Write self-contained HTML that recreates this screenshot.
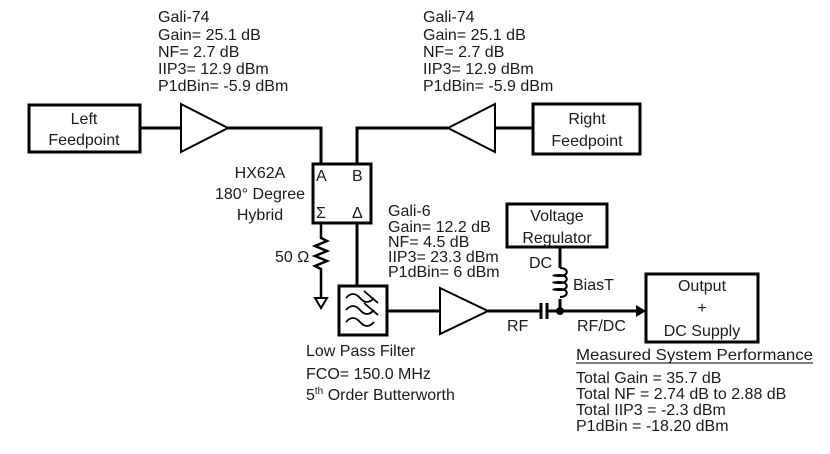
<!DOCTYPE html>
<html><head><meta charset="utf-8"><style>
html,body{margin:0;padding:0;background:#fff;}
svg{display:block;}
text{font-family:"Liberation Sans",sans-serif;font-size:16px;fill:#1a1a1a;}
</style></head><body>
<svg width="830" height="454" viewBox="0 0 830 454" xmlns="http://www.w3.org/2000/svg">
<g fill="none" stroke="#000" stroke-width="3">
<rect x="29" y="105" width="111" height="47"/>
<line x1="140" y1="128" x2="181" y2="128"/>
<polygon points="181,104 228,128 181,152" stroke-width="2"/>
<polyline points="228,128 321,128 321,164"/>
<rect x="313" y="164" width="58" height="59"/>
<polyline points="357,164 357,128 448,128"/>
<polygon points="495,104 448,128 495,152" stroke-width="2"/>
<line x1="495" y1="128" x2="533" y2="128"/>
<rect x="533" y="104" width="107" height="50"/>
<polyline points="321,223 321,238 327,241 315,246 327,251 315,256 327,261 315,266 321,269 321,298" stroke-width="2.5"/>
<polygon points="315,298 327,298 321,308" stroke-width="2"/>
<line x1="357" y1="223" x2="357" y2="286"/>
<rect x="339" y="286" width="48" height="49"/>
<line x1="387" y1="311" x2="440" y2="311"/>
<polygon points="440,288 488,311 440,334" stroke-width="2"/>
<line x1="488" y1="311" x2="541" y2="311"/>
<line x1="541" y1="303" x2="541" y2="319"/>
<line x1="547" y1="303" x2="547" y2="319"/>
<line x1="547" y1="311" x2="640" y2="311"/>
<rect x="507" y="204" width="100" height="43"/>
<line x1="560" y1="247" x2="560" y2="268"/>
<line x1="560" y1="299" x2="560" y2="311"/>
<rect x="646" y="274" width="112" height="68"/>
</g>
<g fill="none" stroke="#000" stroke-width="1.8">
<path d="M346,298 q7,-8 14,0 t14,0 M364,291 l14,12"/>
<path d="M346,310 q7,-8 14,0 t14,0 M364,303 l14,12"/>
<path d="M346,322 q7,-8 14,0 t14,0"/>
</g>
<g fill="none" stroke="#000" stroke-width="2">
<path d="M560,268 c9,0 9,8 0,8 c-9,0 -9,-1 0,-1 c9,0 9,8 0,8 c-9,0 -9,-1 0,-1 c9,0 9,8 0,8 c-9,0 -9,-1 0,-1 c9,0 9,8 0,8"/>
</g>
<circle cx="560" cy="311" r="4" fill="#000"/>
<polygon points="636,305 646,311 636,317" fill="#000"/>
<text x="158" y="22">Gali-74</text>
<text x="158" y="40">Gain= 25.1 dB</text>
<text x="158" y="57">NF= 2.7 dB</text>
<text x="158" y="74">IIP3= 12.9 dBm</text>
<text x="158" y="91">P1dBin= -5.9 dBm</text>
<text x="423" y="22">Gali-74</text>
<text x="423" y="40">Gain= 25.1 dB</text>
<text x="423" y="57">NF= 2.7 dB</text>
<text x="423" y="74">IIP3= 12.9 dBm</text>
<text x="423" y="91">P1dBin= -5.9 dBm</text>
<text x="84" y="124" text-anchor="middle">Left</text>
<text x="84" y="145" text-anchor="middle">Feedpoint</text>
<text x="587" y="124" text-anchor="middle">Right</text>
<text x="587" y="146" text-anchor="middle">Feedpoint</text>
<text x="260" y="178" text-anchor="middle">HX62A</text>
<text x="260" y="199" text-anchor="middle">180° Degree</text>
<text x="260" y="220" text-anchor="middle">Hybrid</text>
<text x="316" y="181">A</text>
<text x="352" y="181">B</text>
<text x="316" y="218" font-family="Liberation Serif">Σ</text>
<text x="352" y="218" font-family="Liberation Serif">Δ</text>
<text x="275" y="262">50 Ω</text>
<text x="388" y="216">Gali-6</text>
<text x="388" y="232">Gain= 12.2 dB</text>
<text x="388" y="247">NF= 4.5 dB</text>
<text x="388" y="262">IIP3= 23.3 dBm</text>
<text x="388" y="277">P1dBin= 6 dBm</text>
<text x="557" y="221" text-anchor="middle">Voltage</text>
<text x="557" y="243" text-anchor="middle">Regulator</text>
<text x="529" y="268">DC</text>
<text x="573" y="290">BiasT</text>
<text x="507" y="331">RF</text>
<text x="577" y="331">RF/DC</text>
<text x="702" y="291" text-anchor="middle">Output</text>
<text x="702" y="313" text-anchor="middle">+</text>
<text x="702" y="336" text-anchor="middle">DC Supply</text>
<text x="306" y="356">Low Pass Filter</text>
<text x="306" y="379">FCO= 150.0 MHz</text>
<text x="306" y="400">5<tspan font-size="10" dy="-6">th</tspan><tspan dy="6"> Order Butterworth</tspan></text>
<text x="576" y="360" textLength="237" lengthAdjust="spacingAndGlyphs">Measured System Performance</text>
<line x1="576" y1="363" x2="813" y2="363" stroke="#000" stroke-width="1"/>
<text x="576" y="383">Total Gain = 35.7 dB</text>
<text x="576" y="399">Total NF = 2.74 dB to 2.88 dB</text>
<text x="576" y="415">Total IIP3 = -2.3 dBm</text>
<text x="576" y="431">P1dBin = -18.20 dBm</text>
</svg>
</body></html>
